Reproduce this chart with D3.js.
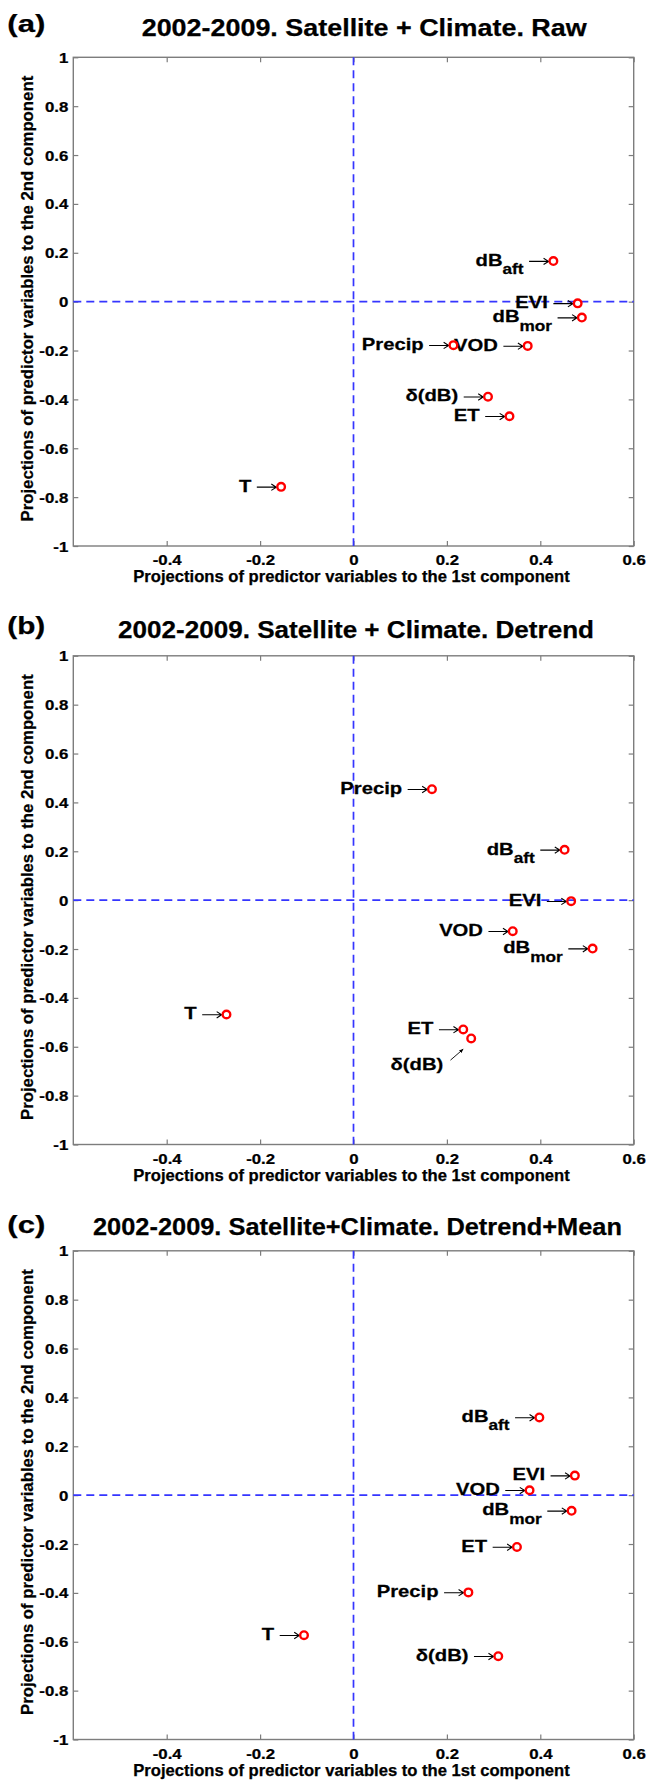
<!DOCTYPE html>
<html>
<head>
<meta charset="utf-8">
<script src="https://cdn.jsdelivr.net/npm/d3@7"></script>
<style>
  html, body { margin: 0; padding: 0; background: #fff; }
  svg text { font-family: "Liberation Sans", Arial, Helvetica, sans-serif; font-weight: bold; fill: #000;
             stroke: #000; stroke-width: 0.25px; }
  .panel-letter { font-size: 24px; }
  .panel-title { font-size: 24.5px; }
  .tick text { font-size: 14px; }
  .axis-label { font-size: 15.7px; }
  .point-label { font-size: 17px; }
  .point-label .sub { font-size: 14.5px; }
</style>
</head>
<body>
<svg id="fig" width="649" height="1781"></svg>
<script>
// Predictor variables (main name + subscript)
const variableNames = ["dB", "EVI", "dB", "Precip", "VOD", "δ(dB)", "ET", "T"];
const variableSubs  = ["aft", "", "mor", "", "", "", "", ""];

// Panel headings
const panelLetters = ["(a)", "(b)", "(c)"];
const panelTitles = [
  "2002-2009. Satellite + Climate. Raw",
  "2002-2009. Satellite + Climate. Detrend",
  "2002-2009. Satellite+Climate. Detrend+Mean"
];

// Projections on the 1st (x) and 2nd (y) components, one pair per panel
const rawX      = [0.428, 0.480, 0.489, 0.214, 0.373, 0.288, 0.334, -0.155];
const rawY      = [0.166, -0.007, -0.065, -0.178, -0.181, -0.389, -0.469, -0.758];
const detrendX  = [0.452, 0.466, 0.512, 0.168, 0.341, 0.252, 0.235, -0.272];
const detrendY  = [0.206, -0.004, -0.198, 0.454, -0.127, -0.566, -0.529, -0.468];
const meanX     = [0.398, 0.474, 0.467, 0.246, 0.377, 0.310, 0.350, -0.106];
const meanY     = [0.318, 0.080, -0.064, -0.398, 0.020, -0.659, -0.212, -0.573];

// Index of a point whose label sits below it with a leader arrow (-1 = none)
const belowLabel = [-1, 5, -1];

// Axis ticks
const xTickValues = [-0.4, -0.2, 0, 0.2, 0.4, 0.6];
const xTickLabels = ["-0.4", "-0.2", "0", "0.2", "0.4", "0.6"];
const yTickValues = [-1, -0.8, -0.6, -0.4, -0.2, 0, 0.2, 0.4, 0.6, 0.8, 1];
const yTickLabels = ["-1", "-0.8", "-0.6", "-0.4", "-0.2", "0", "0.2", "0.4", "0.6", "0.8", "1"];
const xAxisLabel = "Projections of predictor variables to the 1st component";
const yAxisLabel = "Projections of predictor variables to the 2nd component";

const panelX = [rawX, detrendX, meanX];
const panelY = [rawY, detrendY, meanY];

// ---- layout ----
const plotLeft = 73.3, plotRight = 633.7, plotH = 488.7;
const panelTop = [57.3, 655.8, 1250.8];
const titleStart = [141.7, 118, 93];
const titleWidth = [445, 476, 529];
const titleBase = [36, 638.3, 1235];
const letterBase = [32.3, 634.3, 1233.3];
const LABEL_SX = 1.19;        // horizontal stretch of point labels
const TICK_SX = 1.2;          // horizontal stretch of tick labels
const frameColor = "#7d7d7d";
const dashColor = "#3535ff";
const markerColor = "#ff0000";
const R = 3.8;
const ARROW = 19.5, GAP = 5.5;

const svg = d3.select("#fig");
svg.append("rect").attr("width", 649).attr("height", 1781).attr("fill", "#fff");

const defs = svg.append("defs");
defs.append("marker")
  .attr("id", "head").attr("viewBox", "0 0 10 10").attr("refX", 9).attr("refY", 5)
  .attr("markerWidth", 5).attr("markerHeight", 5).attr("orient", "auto")
  .append("path").attr("d", "M0,1 L10,5 L0,9 Z").attr("fill", "#000");

function arrowPath(x0, x1, yv) {
  return `M${x0},${yv} L${x1},${yv} M${x1 - 5},${yv - 3.2} L${x1},${yv} L${x1 - 5},${yv + 3.2}`;
}

function drawPanel(p) {
  const top = panelTop[p], bottom = top + plotH;
  const x = d3.scaleLinear().domain([-0.6, 0.6]).range([plotLeft, plotRight]);
  const y = d3.scaleLinear().domain([-1, 1]).range([bottom, top]);
  const g = svg.append("g");

  // headings
  g.append("text").attr("class", "panel-letter").attr("x", 7.3).attr("y", letterBase[p])
    .attr("textLength", 38).attr("lengthAdjust", "spacingAndGlyphs").text(panelLetters[p]);
  g.append("text").attr("class", "panel-title").attr("x", titleStart[p]).attr("y", titleBase[p])
    .attr("textLength", titleWidth[p]).attr("lengthAdjust", "spacingAndGlyphs").text(panelTitles[p]);

  // axes with inward ticks on all four sides
  const axB = g.append("g").attr("transform", `translate(0,${bottom})`)
    .call(d3.axisBottom(x).tickValues(xTickValues).tickFormat((d, i) => xTickLabels[i])
      .tickSizeInner(-5).tickSizeOuter(0).tickPadding(0));
  const axT = g.append("g").attr("transform", `translate(0,${top})`)
    .call(d3.axisTop(x).tickValues(xTickValues).tickFormat("").tickSizeInner(-5).tickSizeOuter(0));
  const axL = g.append("g").attr("transform", `translate(${plotLeft},0)`)
    .call(d3.axisLeft(y).tickValues(yTickValues).tickFormat((d, i) => yTickLabels[i])
      .tickSizeInner(-5).tickSizeOuter(0).tickPadding(5));
  const axR = g.append("g").attr("transform", `translate(${plotRight},0)`)
    .call(d3.axisRight(y).tickValues(yTickValues).tickFormat("").tickSizeInner(-5).tickSizeOuter(0));
  [axB, axT, axL, axR].forEach(a => {
    a.attr("font-size", null).attr("font-family", null).attr("color", frameColor);
    a.select(".domain").remove();
    a.selectAll("line").attr("stroke-width", 1.2);
    a.selectAll("text").attr("fill", "#000");
  });
  axB.selectAll("text").attr("y", 19.5).attr("dy", null).attr("transform", `scale(${TICK_SX},1)`);
  axL.selectAll("text").attr("x", -5 / TICK_SX).attr("dy", "0.36em").attr("transform", `scale(${TICK_SX},1)`);

  g.append("rect").attr("x", plotLeft).attr("y", top)
    .attr("width", plotRight - plotLeft).attr("height", plotH)
    .attr("fill", "none").attr("stroke", frameColor).attr("stroke-width", 1.4);

  // axis titles
  g.append("text").attr("class", "axis-label").attr("x", 133.3).attr("y", bottom + 36)
    .attr("textLength", 436.4).attr("lengthAdjust", "spacingAndGlyphs").text(xAxisLabel);
  g.append("text").attr("class", "axis-label").attr("text-anchor", "middle")
    .attr("transform", `translate(33,${(top + bottom) / 2 - 3}) rotate(-90)`)
    .attr("textLength", 445.7).attr("lengthAdjust", "spacingAndGlyphs").text(yAxisLabel);

  // zero reference lines
  g.append("line").attr("x1", plotLeft).attr("x2", plotRight).attr("y1", y(0)).attr("y2", y(0))
    .attr("stroke", dashColor).attr("stroke-width", 1.7).attr("stroke-dasharray", "8,5");
  g.append("line").attr("x1", x(0)).attr("x2", x(0)).attr("y1", top).attr("y2", bottom)
    .attr("stroke", dashColor).attr("stroke-width", 1.7).attr("stroke-dasharray", "8,5");

  const pts = variableNames.map((n, i) => ({ name: n, sub: variableSubs[i], vx: panelX[p][i], vy: panelY[p][i], i }));

  // labels with arrows pointing at the markers
  pts.forEach(d => {
    const cx = x(d.vx), cy = y(d.vy);
    if (d.i === belowLabel[p]) {
      g.append("text").attr("class", "point-label")
        .attr("transform", `translate(${cx - 80.6},${cy + 31.7}) scale(${LABEL_SX},1)`).text(d.name);
      g.append("line").attr("x1", cx - 20.7).attr("y1", cy + 21.7).attr("x2", cx - 8).attr("y2", cy + 10.7)
        .attr("stroke", "#000").attr("stroke-width", 0.9).attr("marker-end", "url(#head)");
      return;
    }
    const tip = cx - R - 1;
    g.append("path").attr("d", arrowPath(tip - ARROW, tip, cy + 0.3))
      .attr("fill", "none").attr("stroke", "#000").attr("stroke-width", 1.1);
    const t = g.append("text").attr("class", "point-label").attr("text-anchor", "end")
      .attr("transform", `translate(${tip - ARROW - GAP},${cy + 4.7}) scale(${LABEL_SX},1)`);
    t.append("tspan").text(d.name);
    if (d.sub) t.append("tspan").attr("class", "sub").attr("dy", 8.3).text(d.sub);
  });

  // markers
  g.selectAll("circle.pt").data(pts).join("circle").attr("class", "pt")
    .attr("cx", d => x(d.vx)).attr("cy", d => y(d.vy)).attr("r", R)
    .attr("fill", "none").attr("stroke", markerColor).attr("stroke-width", 2.4);
}

[0, 1, 2].forEach(drawPanel);
</script>
</body>
</html>
